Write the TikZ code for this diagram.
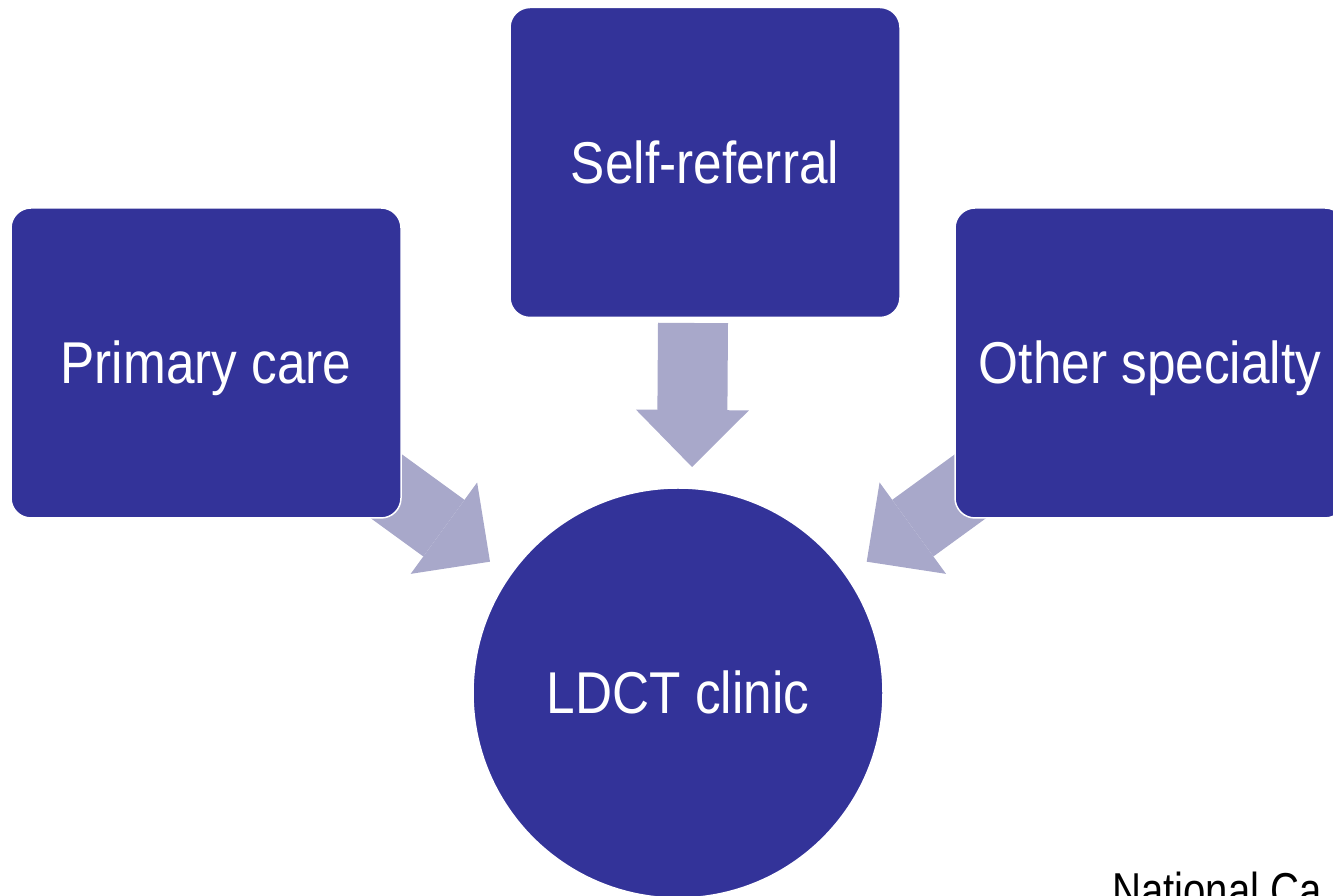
\documentclass[tikz,border=0pt]{standalone}
\usepackage{fontspec}
\setmainfont{Liberation Sans}
\usetikzlibrary{arrows.meta}
\pgfdeclarelayer{background}
\pgfsetlayers{background,main}
\definecolor{boxblue}{RGB}{51,51,153}
\definecolor{arrowgray}{RGB}{168,168,202}
\begin{document}
\begin{tikzpicture}[x=1pt,y=1pt,
  refbox/.style={rectangle, rounded corners=20pt, fill=boxblue, draw=white, line width=1.5pt,
    minimum width=390pt, minimum height=310pt, inner sep=0pt, text=white,
    text height=42pt, text depth=0pt, font=\fontsize{59}{66}\selectfont},
  hub/.style={circle, fill=boxblue, draw=white, line width=1.5pt, minimum size=410pt,
    inner sep=0pt, text=white, text height=42pt, text depth=0pt,
    font=\fontsize{59}{66}\selectfont},
  flow/.style={draw=arrowgray, line width=70pt,
    -{Triangle[width=113pt,length=57pt,line width=0pt,fill=arrowgray,color=arrowgray]}}]
\useasboundingbox (0,0) rectangle (1333,896);
\clip (0,0) rectangle (1333,896);

\node[refbox] (primary) at (206,533) {\scalebox{0.87}[1]{Primary care}};
\node[refbox] (self) at (705,733.5) {\scalebox{0.87}[1]{Self-referral}};
\node[refbox] (other) at (1150,533) {\scalebox{0.87}[1]{Other specialty}};
\node[hub] (ldct) at (678,203) {\scalebox{0.87}[1]{LDCT clinic}};

\node[anchor=base west, inner sep=0pt, font=\fontsize{49}{55}\selectfont] (credit)
  at (1112,-12) {\scalebox{0.82}[1]{National Ca}};

\begin{pgfonlayer}{background}
\coordinate (pcTail) at (296,475.4);
\coordinate (pcTip) at (490,334.3);
\coordinate (srTail) at (693,573);
\coordinate (srTip) at (692,429);
\coordinate (osTail) at (1060.7,475.4);
\coordinate (osTip) at (866.7,334.3);
\draw[flow] (pcTail) -- (pcTip);
\draw[flow] (srTail) -- (srTip);
\draw[flow] (osTail) -- (osTip);
\end{pgfonlayer}
\end{tikzpicture}
\end{document}
